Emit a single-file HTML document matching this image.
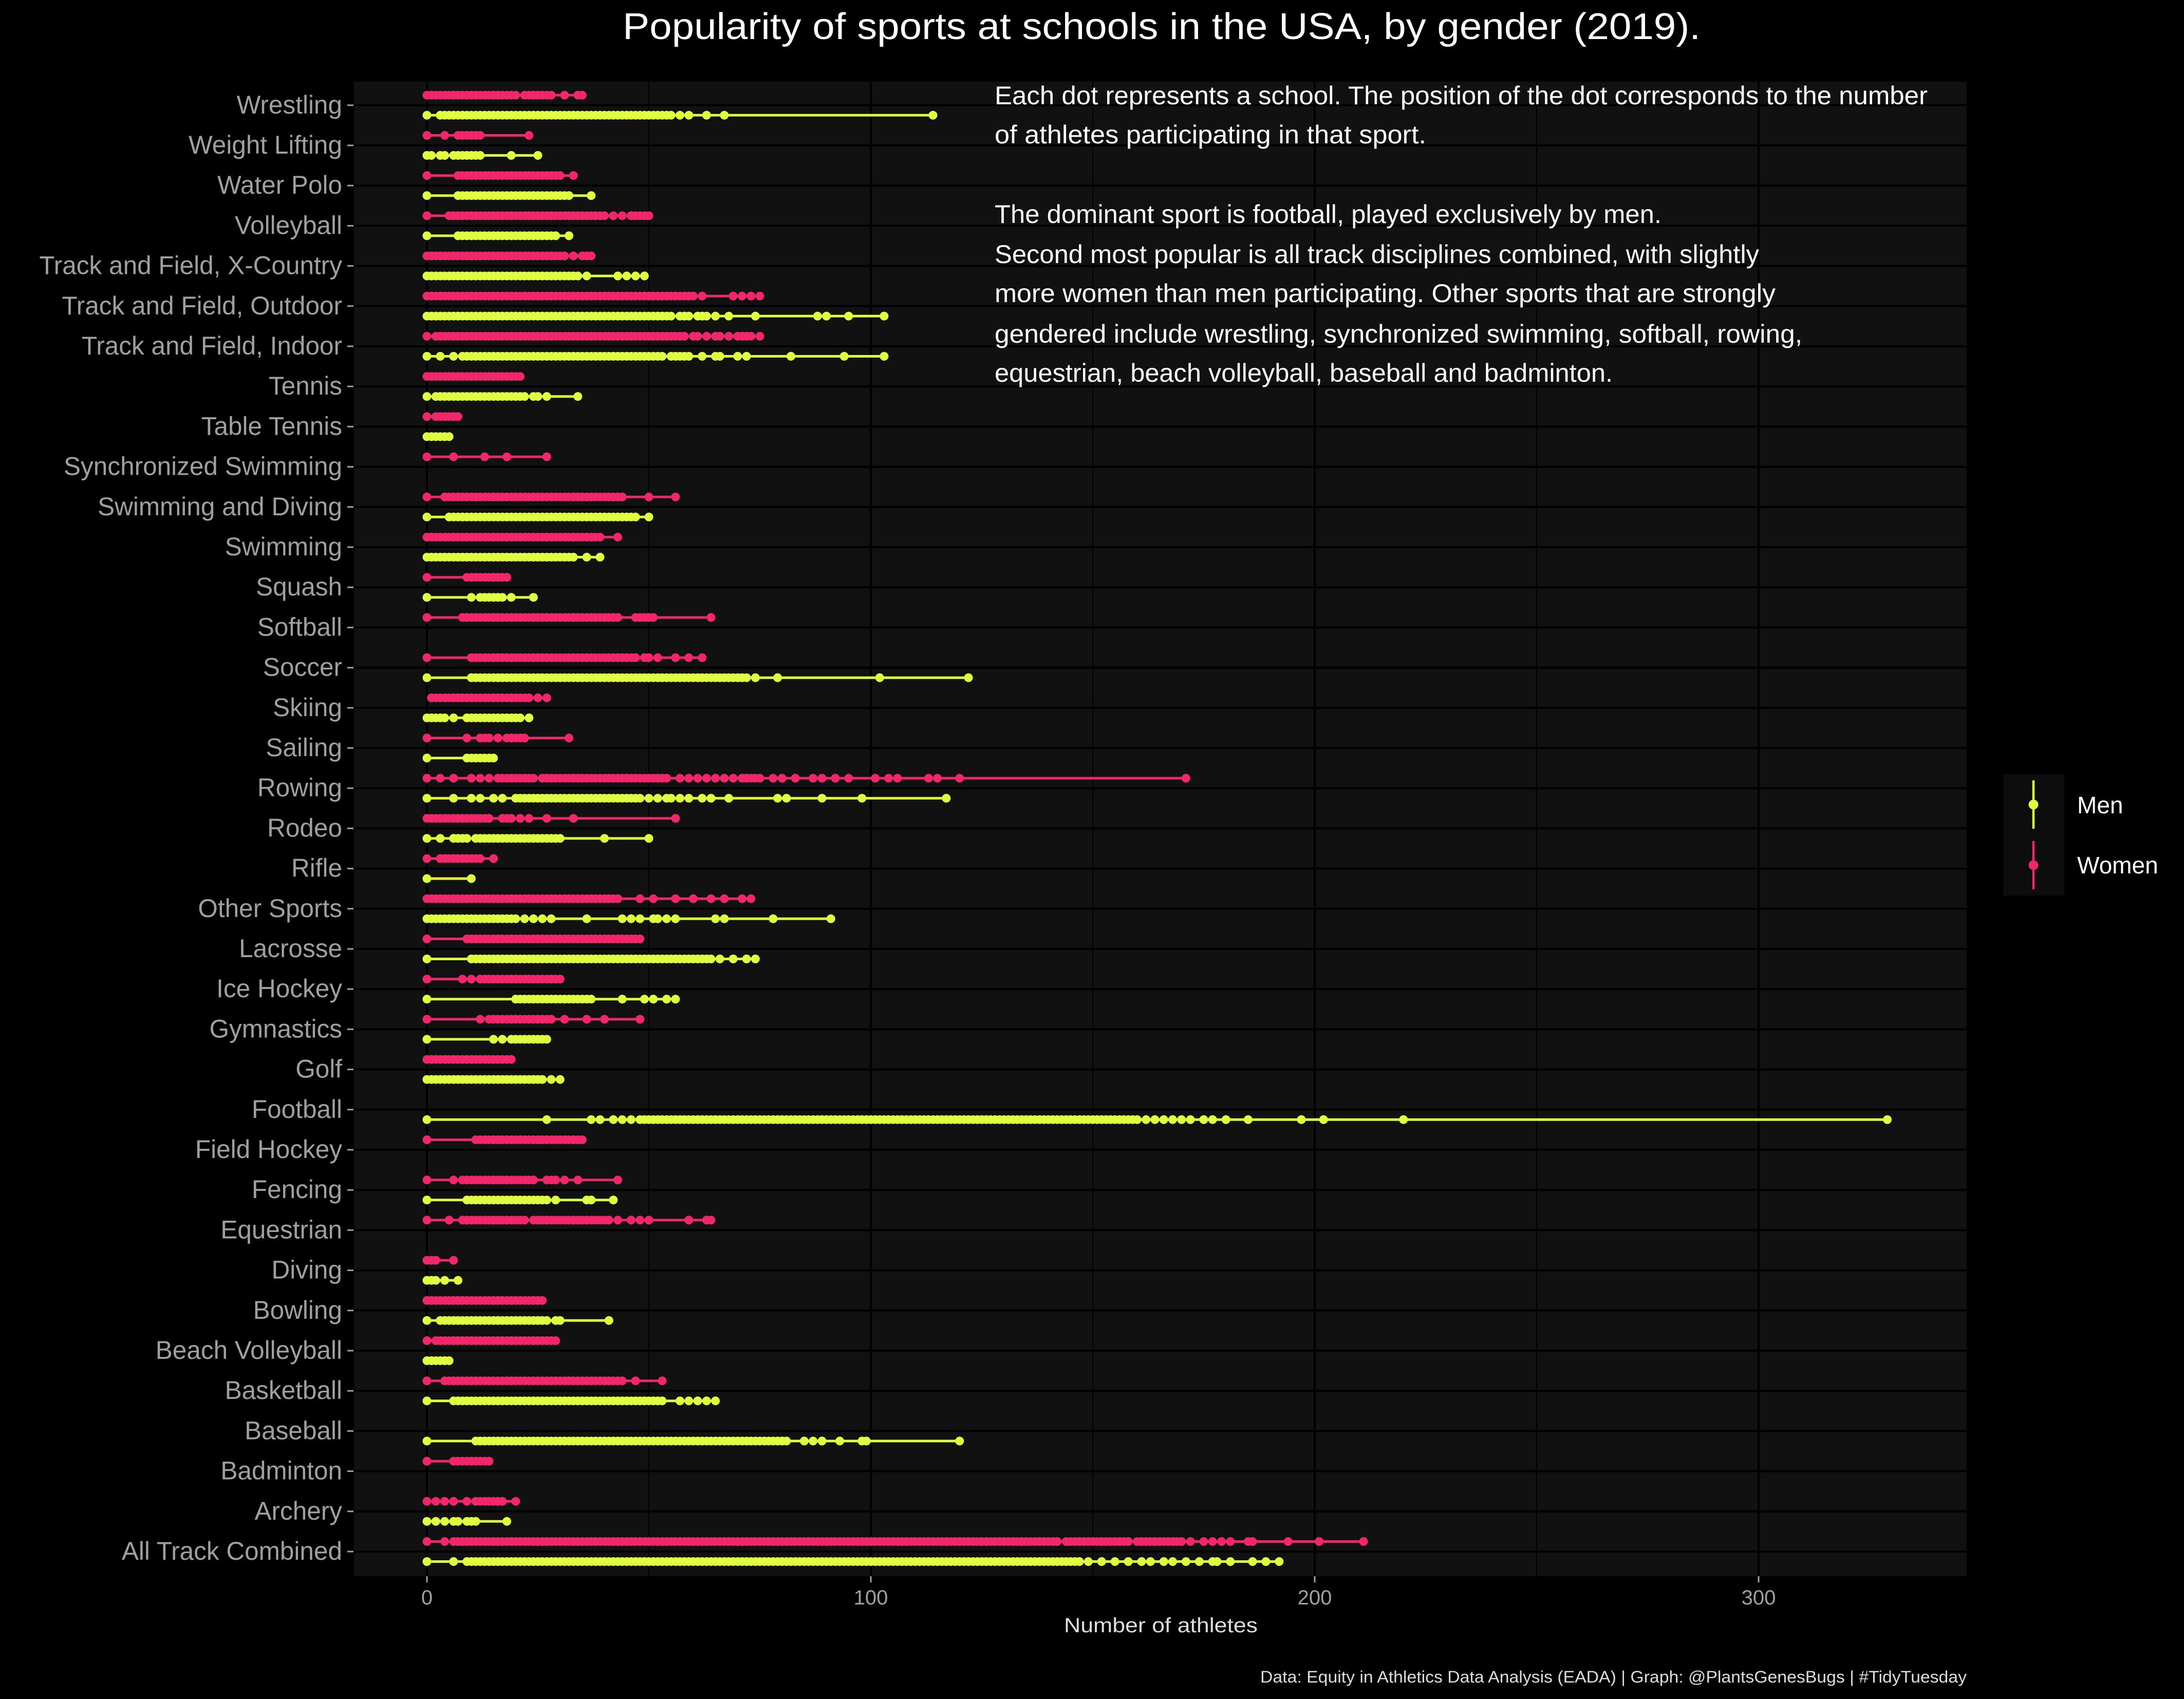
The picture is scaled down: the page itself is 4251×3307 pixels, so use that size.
<!DOCTYPE html>
<html><head><meta charset="utf-8"><style>
html,body{margin:0;padding:0;background:#000;}
svg{display:block;}
text{font-family:"Liberation Sans",sans-serif;}
</style></head><body>
<svg id="chart" width="4251" height="3307" viewBox="0 0 4251 3307" xmlns="http://www.w3.org/2000/svg">
<rect x="0" y="0" width="4251" height="3307" fill="#000"/>
<rect x="689" y="159" width="3139" height="2909" fill="#111"/>
<g id="grid"></g>
<g id="marks"></g>
<g id="axes"></g>
<text x="1212" y="76" font-size="72" fill="#fff" textLength="2098" lengthAdjust="spacingAndGlyphs">Popularity of sports at schools in the USA, by gender (2019).</text>
<g fill="#fff" font-size="50">
<text x="1936" y="203" textLength="1816" lengthAdjust="spacingAndGlyphs">Each dot represents a school. The position of the dot corresponds to the number</text>
<text x="1936" y="279" textLength="840" lengthAdjust="spacingAndGlyphs">of athletes participating in that sport.</text>
<text x="1936" y="434" textLength="1298" lengthAdjust="spacingAndGlyphs">The dominant sport is football, played exclusively by men.</text>
<text x="1936" y="512" textLength="1488" lengthAdjust="spacingAndGlyphs">Second most popular is all track disciplines combined, with slightly</text>
<text x="1936" y="588" textLength="1520" lengthAdjust="spacingAndGlyphs">more women than men participating. Other sports that are strongly</text>
<text x="1936" y="667" textLength="1572" lengthAdjust="spacingAndGlyphs">gendered include wrestling, synchronized swimming, softball, rowing,</text>
<text x="1936" y="743" textLength="1203" lengthAdjust="spacingAndGlyphs">equestrian, beach volleyball, baseball and badminton.</text>
</g>
<text x="2071" y="3177" font-size="40" fill="#ddd" textLength="377" lengthAdjust="spacingAndGlyphs">Number of athletes</text>
<text x="2453" y="3275" font-size="32" fill="#ddd" textLength="1375" lengthAdjust="spacingAndGlyphs">Data: Equity in Athletics Data Analysis (EADA) | Graph: @PlantsGenesBugs | #TidyTuesday</text>
<g>
<rect x="3899" y="1507" width="119" height="236" fill="#0d0d0d"/>
<g>
<line x1="3958" y1="1519" x2="3958" y2="1613" stroke="#DFFF3F" stroke-width="4.5"/>
<circle cx="3958" cy="1566" r="9.5" fill="#DFFF3F"/>
<text x="4043" y="1583" font-size="46" fill="#fff">Men</text>
</g>
<g>
<line x1="3958" y1="1637" x2="3958" y2="1731" stroke="#F2266A" stroke-width="4.5"/>
<circle cx="3958" cy="1684" r="9.5" fill="#F2266A"/>
<text x="4043" y="1700" font-size="46" fill="#fff">Women</text>
</g>
</g>
</svg>
<script>
// categories bottom -> top
const categories = ["All Track Combined","Archery","Badminton","Baseball","Basketball","Beach Volleyball","Bowling","Diving","Equestrian","Fencing","Field Hockey","Football","Golf","Gymnastics","Ice Hockey","Lacrosse","Other Sports","Rifle","Rodeo","Rowing","Sailing","Skiing","Soccer","Softball","Squash","Swimming","Swimming and Diving","Synchronized Swimming","Table Tennis","Tennis","Track and Field, Indoor","Track and Field, Outdoor","Track and Field, X-Country","Volleyball","Water Polo","Weight Lifting","Wrestling"];
// athletes per school; "a-b" = every value from a to b present
const menValues = [
"0,6,9-132,133-147,149,152,155,158,161,163,166,168,171,174,177,178,181,186,189,192",
"0,2,4,6,7,9,10,11,18",
"",
"0,11-72,73-79,80,81,85,87,89,93,98,99,120",
"0,6,7-53,57,59,61,63,65",
"0,1,2,3,4,5",
"0,3-27,29,30,41",
"0,1,2,4,7",
"",
"0,9-27,29,36,37,42",
"",
"0,27,37,39,42,44,46,48,49-142,143-160,162,164,166,168,170,172,175,177,180,185,197,202,220,329",
"0-26,28,30",
"0,15,17,19-27",
"0,20-37,44,49,51,54,56",
"0,10-64,66,69,72,74",
"0-12,13-20,22,24,26,28,36,44,46,48,51,52,54,56,65,67,78,91",
"0,10",
"0,3,6-9,11-25,26-30,40,50",
"0,6,10,12,15,17,20-48,50,52,54,55,57,59,62,64,68,79,81,89,98,117",
"0,9-15",
"0,1,2,3,4,6,9,10,11-19,20,21,23",
"0,10-55,56-72,74,79,102,122",
"",
"0,10,12-17,19,24",
"0-33,36,39",
"0,5-43,44-47,50",
"",
"0,1,2,3,4,5",
"0,2-22,24,25,27,34",
"0,3,6,8-53,55-59,62,65,66,70,72,82,94,103",
"0-54,55,57-59,61-63,65,68,74,88,90,95,103",
"0-32,33,34,36,43,45,47,49",
"0,7-29,32",
"0,7-32,37",
"0,1,3,4,6-12,19,25",
"0,3-53,54,55,57,59,63,67,114"
];
const womenValues = [
"0,4,6-128,129-142,144,145,146-150,151-158,160-170,172,175,177,179,181,185,186,194,201,211",
"0,2,4,6,9,11-17,20",
"0,6-14",
"",
"0,4-40,41-44,47,53",
"0,2-8,9-29",
"0-26",
"0,1,2,6",
"0,5,8-21,22,24-40,41,43,46,48,50,59,63,64",
"0,6,8-23,24,27-29,31,34,43",
"0,11-35",
"",
"0-19",
"0,12,14-28,31,36,40,48",
"0,8,10,12-30",
"0,9-48",
"0-43,48,51,56,60,64,67,71,73",
"0,3-12,15",
"0-14,17-19,21,23,27,33,56",
"0,3,6,10,12,14,16-24,26-40,41-54,57,59,61,63,65,67,69,71-75,78,80,83,87,89,92,95,101,104,106,113,115,120,171",
"0,9,12,13,14,16,18,19,20,21,22,32",
"1-13,14-20,21,22,23,25,27",
"0,10-47,49,50,52,56,59,62",
"0,8-40,41,42,43,47-51,64",
"0,9-18",
"0-30,31-37,38,39,43",
"0,4-44,50,56",
"0,6,13,18,27",
"0,2-7",
"0-21",
"0,2-46,46-58,60,61,63,65,66,68,70,71,72,73,75",
"0-46,47,48,49-59,60,62,69,71,73,75",
"0-30,31,33,35,36,37",
"0,5-33,34-40,42,44,46-50",
"0,7-27,28,29,30,33",
"0,4,7-12,23",
"0-20,22,23,24,25,26,27,28,31,34,35"
];
const xTicks = [0,100,200,300];
const xMinor = [50,150,250];

const NS="http://www.w3.org/2000/svg";
const x = v => 831 + 8.64*v;
const y = i => 3020 - i*78.2;
function parse(s){const out=[];if(!s)return out;s.split(",").forEach(p=>{if(p.includes("-")){const [a,b]=p.split("-").map(Number);for(let k=a;k<=b;k++)out.push(k);}else out.push(Number(p));});return out;}
function mk(tag,attrs,parent){const e=document.createElementNS(NS,tag);for(const k in attrs)e.setAttribute(k,attrs[k]);parent.appendChild(e);return e;}
const grid=document.getElementById("grid"),marks=document.getElementById("marks"),axes=document.getElementById("axes");
xMinor.forEach(v=>{const l=mk("line",{x1:x(v),x2:x(v),y1:159,y2:3068,stroke:"#000","stroke-width":2},grid);

});
xTicks.forEach(v=>{const l=mk("line",{x1:x(v),x2:x(v),y1:159,y2:3068,stroke:"#000","stroke-width":4},grid);


const t=mk("line",{x1:x(v),x2:x(v),y1:3068,y2:3080,stroke:"#a0a0a0","stroke-width":3},axes);


const tx=mk("text",{x:x(v),y:3123,"font-size":40,fill:"#a0a0a0","text-anchor":"middle"},axes);tx.textContent=v;

});
categories.forEach((c,i)=>{const yy=y(i);
const g=mk("line",{x1:689,x2:3828,y1:yy,y2:yy,stroke:"#000","stroke-width":4},grid);


const t=mk("line",{x1:676,x2:688,y1:yy,y2:yy,stroke:"#a0a0a0","stroke-width":3},axes);


const tx=mk("text",{x:0,y:0,"font-size":50,fill:"#a0a0a0","text-anchor":"end",transform:`translate(666,${yy+16}) scale(0.99,1)`},axes);tx.textContent=c;


[[womenValues[i],-19.5,"#F2266A","women"],[menValues[i],19.5,"#DFFF3F","men"]].forEach(([s,off,col,nm])=>{
const vals=parse(s);if(!vals.length)return;const cy=yy+off;
const grp=mk("g",{},marks);


const ln=mk("line",{x1:x(Math.min(...vals)),x2:x(Math.max(...vals)),y1:cy,y2:cy,stroke:col,"stroke-width":5},grp);


vals.forEach(v=>{const d=mk("circle",{cx:x(v),cy:cy,r:8.5,fill:col},grp);

});});});
</script>
</body></html>
